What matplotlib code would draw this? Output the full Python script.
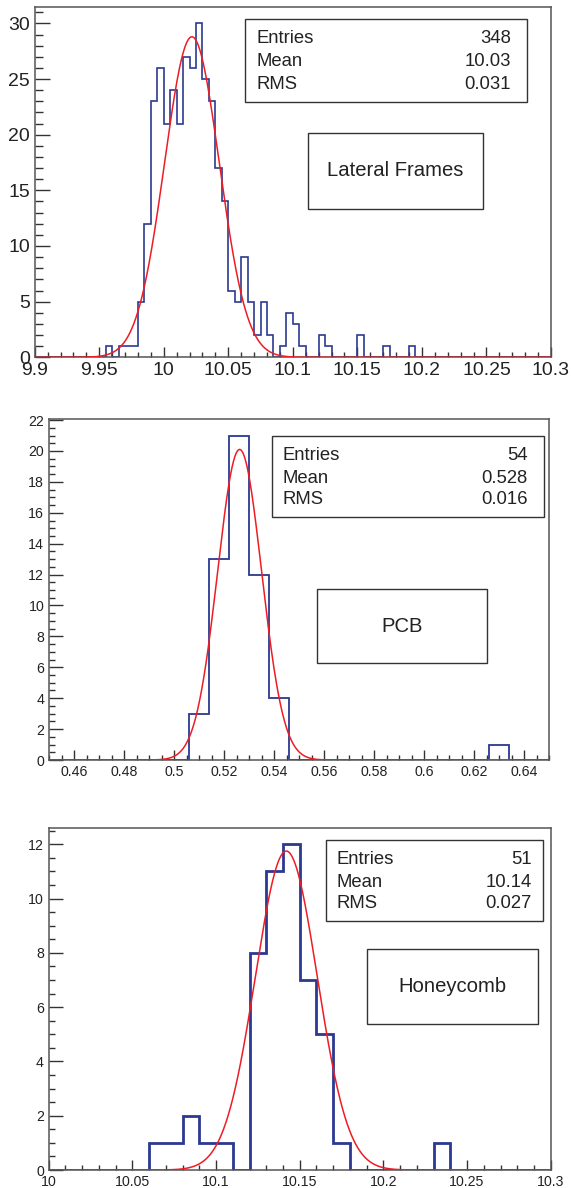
import matplotlib
matplotlib.use('Agg')
import matplotlib.pyplot as plt
import numpy as np
from matplotlib.patches import Rectangle
from matplotlib.ticker import MultipleLocator, FuncFormatter

plt.rcParams['font.family'] = ['Liberation Sans', 'DejaVu Sans']

W, H = 571, 1188

# --- Lateral Frames ---
frames_lo = 9.955
frames_width = 0.005
frames_counts = [1, 0, 1, 1, 1, 5, 12, 23, 26, 21, 24, 21, 27, 26, 30, 25, 23, 17,
                 14, 6, 5, 9, 5, 2, 5, 2, 0, 1, 4, 3, 1, 0, 0, 2, 1, 0, 0, 0, 0,
                 2, 0, 0, 0, 1, 0, 0, 0, 1]
frames_fit = [28.8, 10.0218, 0.0212]   # constant, mean, sigma
frames_stats = ['348', '10.03', '0.031']

# --- PCB ---
pcb_lo = 0.506
pcb_width = 0.008
pcb_counts = [3, 13, 21, 12, 4, 0, 0, 0, 0, 0, 0, 0, 0, 0, 0, 1]
pcb_fit = [20.1, 0.5262, 0.0088]
pcb_stats = ['54', '0.528', '0.016']

# --- Honeycomb ---
honey_lo = 10.06
honey_width = 0.01
honey_counts = [1, 1, 2, 1, 1, 0, 8, 11, 12, 7, 5, 1, 0, 0, 0, 0, 0, 1]
honey_fit = [11.75, 10.142, 0.0185]
honey_stats = ['51', '10.14', '0.027']

stat_names = ['Entries', 'Mean', 'RMS']

BLUE = '#2b3990'
RED = '#ee1c24'
INK = '#222222'


def fx(x):
    return x / W


def fy(y):
    return 1 - y / H


def add_box(fig, x0, y0, x1, y1):
    fig.add_artist(Rectangle((fx(x0), fy(y1)), fx(x1) - fx(x0), fy(y0) - fy(y1),
                             transform=fig.transFigure, fill=False,
                             edgecolor='#333333', lw=1.0))


def panel(fig, frame, xlim, ymax, lo, width, counts, fit, hist_lw,
          xmajor, xminor, ymajor, yminor, tick_fs, ylen, xlen,
          stats, stat_box, stat_text, title, title_box):
    l, t, r, b = frame
    ax = fig.add_axes([fx(l), fy(b), fx(r) - fx(l), (b - t) / H])

    # full histogram over the axis range so empty bins sit on the baseline
    nbins = int(round((xlim[1] - xlim[0]) / width))
    full = np.zeros(nbins)
    start = int(round((lo - xlim[0]) / width))
    full[start:start + len(counts)] = counts
    edges = xlim[0] + width * np.arange(nbins + 1)
    ax.stairs(full, edges, color=BLUE, lw=hist_lw, zorder=2)

    xs = np.linspace(xlim[0], xlim[1], 1500)
    c, m, s = fit
    ax.plot(xs, c * np.exp(-0.5 * ((xs - m) / s) ** 2), color=RED, lw=1.1, zorder=3)

    ax.set_xlim(xlim)
    ax.set_ylim(0, ymax)
    ax.xaxis.set_major_locator(MultipleLocator(xmajor))
    ax.xaxis.set_minor_locator(MultipleLocator(xminor))
    ax.yaxis.set_major_locator(MultipleLocator(ymajor))
    ax.yaxis.set_minor_locator(MultipleLocator(yminor))
    ax.xaxis.set_major_formatter(FuncFormatter(lambda v, p: f'{round(v, 4):g}'))
    ax.yaxis.set_major_formatter(FuncFormatter(lambda v, p: f'{round(v, 4):g}'))

    ax.tick_params(axis='both', which='both', direction='in', top=False, right=False,
                   colors='#333333', labelcolor=INK, labelsize=tick_fs, pad=3.5)
    ax.tick_params(axis='y', which='major', length=ylen[0], width=1)
    ax.tick_params(axis='y', which='minor', length=ylen[1], width=1)
    ax.tick_params(axis='x', which='major', length=xlen[0], width=1)
    ax.tick_params(axis='x', which='minor', length=xlen[1], width=1)
    for sp in ax.spines.values():
        sp.set_color('#555555')
        sp.set_linewidth(1.1)

    # stats box
    add_box(fig, *stat_box)
    tx0, tx1, rows = stat_text
    for name, val, yb in zip(stat_names, stats, rows):
        fig.text(fx(tx0), fy(yb), name, fontsize=13.3, color=INK, va='baseline', ha='left')
        fig.text(fx(tx1), fy(yb), val, fontsize=13.3, color=INK, va='baseline', ha='right')

    # title box
    add_box(fig, *title_box)
    cx = (title_box[0] + title_box[2]) / 2
    cy = (title_box[1] + title_box[3]) / 2
    fig.text(fx(cx), fy(cy), title, fontsize=14.6, color=INK, ha='center', va='center')
    return ax


fig = plt.figure(figsize=(W / 100, H / 100), dpi=100)

panel(fig, (34.7, 6.7, 551, 357.3), (9.9, 10.3), 31.5, frames_lo, frames_width,
      frames_counts, frames_fit, 1.2, 0.05, 0.01, 5, 1, 14, (11, 6), (7, 3.5),
      frames_stats, (245, 19, 527, 102), (257, 511, (43, 66, 89)),
      'Lateral Frames', (308, 133, 483, 209))

panel(fig, (49, 419.3, 549.3, 760), (0.45, 0.65), 22.05, pcb_lo, pcb_width,
      pcb_counts, pcb_fit, 1.3, 0.02, 0.005, 2, 0.5, 10.2, (10, 4.5), (7, 3.5),
      pcb_stats, (272, 436, 544, 517), (283, 528, (460, 483, 504)),
      'PCB', (317, 589, 487, 663))

panel(fig, (48.7, 828, 550.7, 1170), (10.0, 10.3), 12.6, honey_lo, honey_width,
      honey_counts, honey_fit, 2.0, 0.05, 0.01, 2, 0.5, 10.2, (10, 4.5), (7, 3.5),
      honey_stats, (326, 840, 543, 921), (337, 532, (864, 887, 908)),
      'Honeycomb', (367, 949, 538, 1024))

fig.savefig('out.png', dpi=100)
